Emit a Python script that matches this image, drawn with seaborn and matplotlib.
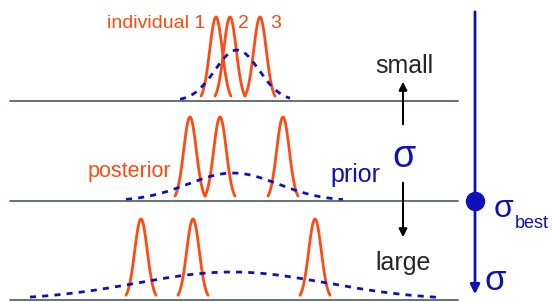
import numpy as np
import pandas as pd
import matplotlib.pyplot as plt
import seaborn as sns

# parametri del diagramma (in pixel, y verso il basso)
baselines = [101, 201, 300]
peak_centres = [[216, 230, 260], [190, 220, 283], [141, 193, 315]]
peak_tops = [17, 117, 219]
peak_half = 15
prior_centres = [237, 233, 232]
prior_sd = [22, 45, 95]
prior_tops = [50, 173, 272]
prior_span = [[180, 290], [126, 343], [30, 440]]

orange = '#ff4a12'
blue = '#1010b8'

sns.set_style('white')
plt.rcParams['font.family'] = ['Liberation Sans', 'DejaVu Sans']

fig = plt.figure(figsize=(5.52, 3.02), dpi=100)
ax = fig.add_axes([0, 0, 1, 1])

rows = []
for i, base in enumerate(baselines):
    h = base - peak_tops[i]
    for j, c in enumerate(peak_centres[i]):
        x = np.linspace(c - peak_half, c + peak_half, 80)
        y = base - h * np.exp(-0.5 * ((x - c) / 6.3) ** 2)
        rows.append(pd.DataFrame({'x': x, 'y': y, 'curva': f'p{i}{j}'}))
post = pd.concat(rows)
sns.lineplot(data=post, x='x', y='y', units='curva', estimator=None, sort=False,
             color=orange, lw=2, ax=ax)

for i, base in enumerate(baselines):
    x = np.linspace(prior_span[i][0], prior_span[i][1], 200)
    h = base - prior_tops[i]
    y = base - h * np.exp(-0.5 * ((x - prior_centres[i]) / prior_sd[i]) ** 2)
    ax.plot(x, y, color=blue, lw=2, linestyle=(0, (2.2, 2.2)))
    ax.plot([10, 458], [base, base], color='#4a5a5a', lw=1.2)

# asse verticale sigma
ax.annotate('', xy=(475, 297), xytext=(475, 9),
            arrowprops=dict(arrowstyle='-|>', color=blue, lw=2, mutation_scale=14))
ax.plot([475], [201], 'o', color=blue, ms=13)
ax.text(494, 217, 'σ', color=blue, fontsize=23, ha='left', va='baseline')
ax.text(515, 228, 'best', color=blue, fontsize=13, ha='left', va='baseline')
ax.text(484, 290, 'σ', color=blue, fontsize=25, ha='left', va='baseline')

# frecce small / large
ax.annotate('', xy=(403, 79), xytext=(403, 127),
            arrowprops=dict(arrowstyle='-|>', color='black', lw=1.5, mutation_scale=12))
ax.annotate('', xy=(403, 240), xytext=(403, 180),
            arrowprops=dict(arrowstyle='-|>', color='black', lw=1.5, mutation_scale=12))
ax.text(404, 73, 'small', fontsize=18, ha='center', va='baseline')
ax.text(403, 270, 'large', fontsize=18, ha='center', va='baseline')
ax.text(404, 167, 'σ', color=blue, fontsize=27, ha='center', va='baseline')

ax.text(205, 28, 'individual 1', color=orange, fontsize=14, ha='right', va='baseline')
ax.text(243, 28, '2', color=orange, fontsize=14, ha='center', va='baseline')
ax.text(276, 28, '3', color=orange, fontsize=14, ha='center', va='baseline')
ax.text(129, 177, 'posterior', color=orange, fontsize=15.5, ha='center', va='baseline')
ax.text(355, 182, 'prior', color=blue, fontsize=18, ha='center', va='baseline')

ax.set_xlim(0, 552)
ax.set_ylim(302, 0)
ax.axis('off')
fig.savefig('out.png', dpi=100)
